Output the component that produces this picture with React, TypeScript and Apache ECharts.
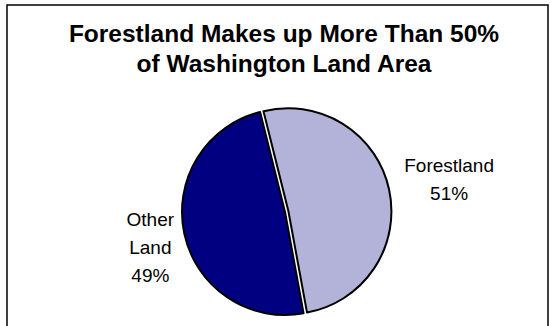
import React, { useEffect, useRef } from "react";
import * as echarts from "echarts";

const titleLines = ["Forestland Makes up More Than 50%", "of Washington Land Area"];
const categories = ["Forestland", "Other Land"];
const values = [51, 49];
const sliceColors = ["#b3b3da", "#000080"];

const FONT = "'Liberation Sans', Arial, Helvetica, sans-serif";

export default function App() {
  const ref = useRef<HTMLDivElement>(null);

  useEffect(() => {
    if (!ref.current) return;
    const chart = echarts.init(ref.current, null, { renderer: "svg" });
    const labelShift = [
      { dx: 55, dy: -10 },
      { dx: -29, dy: 14 },
    ];
    chart.setOption({
      animation: false,
      backgroundColor: "#ffffff",
      title: {
        text: titleLines.join("\n"),
        left: 284,
        top: 18,
        padding: 0,
        textAlign: "center",
        textStyle: {
          fontFamily: FONT,
          fontSize: 24.5,
          fontWeight: "bold",
          color: "#000",
          lineHeight: 30,
        },
      },
      graphic: [
        {
          type: "rect",
          shape: { x: 7, y: 5, width: 541, height: 340 },
          style: { fill: "none", stroke: "#000", lineWidth: 1.5 },
          silent: true,
        },
      ],
      series: [
        {
          type: "pie",
          center: [285, 212],
          radius: 103,
          startAngle: 104,
          clockwise: true,
          avoidLabelOverlap: false,
          selectedMode: "single",
          selectedOffset: 3.5,
          itemStyle: { borderColor: "#000", borderWidth: 2 },
          emphasis: { disabled: true },
          label: {
            show: true,
            position: "outside",
            fontFamily: FONT,
            fontSize: 19,
            lineHeight: 28,
            color: "#000",
            formatter: (p: any) =>
              p.name.split(" ").join("\n") + "\n" + Math.round(p.percent) + "%",
          },
          labelLine: { show: false, length: 0, length2: 0 },
          labelLayout: (p: any) => ({
            dx: labelShift[p.dataIndex].dx,
            dy: labelShift[p.dataIndex].dy,
            align: "center",
          }),
          data: categories.map((c, i) => ({
            name: c,
            value: values[i],
            selected: i === 0,
            itemStyle: { color: sliceColors[i] },
          })),
        },
      ],
    });
    return () => chart.dispose();
  }, []);

  return (
    <div
      ref={ref}
      style={{ position: "absolute", left: 0, top: 0, width: 555, height: 326 }}
    />
  );
}
